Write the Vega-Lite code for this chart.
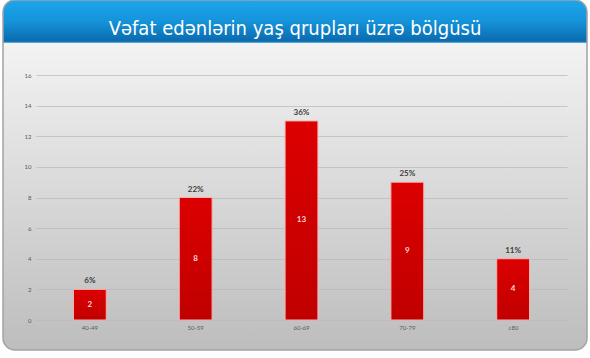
{
  "$schema": "https://vega.github.io/schema/vega-lite/v6.json",
  "autosize": {"type": "none"},
  "padding": {"left": 3, "right": 3, "top": 0, "bottom": 8},
  "width": 584,
  "height": 350,
  "background": "#ffffff",
  "config": {
    "view": {
      "stroke": "#a3a3a3",
      "strokeWidth": 1.5,
      "cornerRadius": 12,
      "fill": {
        "gradient": "linear",
        "x1": 0, "y1": 0, "x2": 0, "y2": 1,
        "stops": [
          {"offset": 0, "color": "#1ca6ec"},
          {"offset": 0.06, "color": "#1594da"},
          {"offset": 0.118, "color": "#0b6aae"},
          {"offset": 0.122, "color": "#5fb0de"},
          {"offset": 0.124, "color": "#f3f3f3"},
          {"offset": 1, "color": "#bdbdbd"}
        ]
      }
    }
  },
  "title": {
    "text": "Vəfat edənlərin yaş qrupları üzrə bölgüsü",
    "anchor": "middle",
    "frame": "group",
    "offset": -55,
    "baseline": "alphabetic",
    "font": "Liberation Sans Narrow, DejaVu Sans Condensed, sans-serif",
    "fontSize": 20,
    "fontWeight": "normal",
    "color": "#ffffff"
  },
  "data": {
    "values": [
      {"group": "40-49", "value": 2, "pct": "6%"},
      {"group": "50-59", "value": 8, "pct": "22%"},
      {"group": "60-69", "value": 13, "pct": "36%"},
      {"group": "70-79", "value": 9, "pct": "25%"},
      {"group": "≥80", "value": 4, "pct": "11%"}
    ]
  },
  "resolve": {"scale": {"y": "independent"}},
  "layer": [
    {
      "mark": {
        "type": "bar",
        "stroke": "#f6b0b0",
        "strokeWidth": 1,
        "fill": {
          "gradient": "linear",
          "x1": 0, "y1": 0, "x2": 0, "y2": 1,
          "stops": [
            {"offset": 0, "color": "#dc0000"},
            {"offset": 1, "color": "#c00000"}
          ]
        }
      },
      "encoding": {
        "x": {
          "field": "group", "type": "nominal", "sort": null,
          "scale": {"range": [33, 564], "paddingInner": 0.69, "paddingOuter": 0.354},
          "axis": {
            "title": null, "orient": "bottom", "offset": -30,
            "domain": false, "ticks": false, "labelAngle": 0,
            "labelPadding": 4, "labelFontSize": 6, "labelColor": "#595959",
            "labelFont": "Lato"
          }
        },
        "y": {
          "field": "value", "type": "quantitative",
          "scale": {"domain": [0, 16], "range": [320, 75], "nice": false},
          "axis": {
            "title": null, "offset": -33, "values": [0, 2, 4, 6, 8, 10, 12, 14, 16],
            "domain": false, "ticks": false, "labelPadding": 5,
            "labelFontSize": 6, "labelColor": "#595959", "labelFont": "Lato",
            "gridColor": "#b8b8b8", "gridOpacity": 0.7, "gridWidth": 1
          }
        }
      }
    },
    {
      "mark": {"type": "text", "baseline": "alphabetic", "dy": -6, "font": "Lato", "fontSize": 8, "fontWeight": "bold", "color": "#3c3c3c"},
      "encoding": {
        "x": {"field": "group", "type": "nominal", "sort": null},
        "y": {"field": "value", "type": "quantitative", "scale": {"domain": [0, 16], "range": [320, 75], "nice": false}, "axis": null},
        "text": {"field": "pct"}
      }
    },
    {
      "mark": {"type": "text", "baseline": "middle", "font": "Lato", "fontSize": 8, "fontWeight": "bold", "color": "#ffd6d6"},
      "encoding": {
        "x": {"field": "group", "type": "nominal", "sort": null},
        "y": {"field": "value", "type": "quantitative", "scale": {"domain": [0, 32], "range": [320, 75], "nice": false}, "axis": null},
        "text": {"field": "value"}
      }
    }
  ]
}
